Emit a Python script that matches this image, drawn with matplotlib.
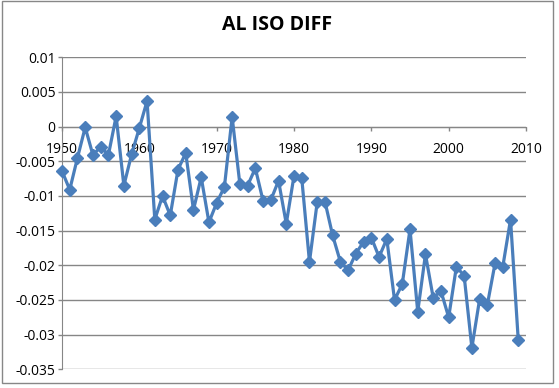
import matplotlib
matplotlib.use("Agg")
import matplotlib.pyplot as plt
from matplotlib.patches import Rectangle

years = list(range(1950, 2010))
values = [
    -0.0064, -0.0091, -0.0045, -0.0001, -0.0041, -0.0029, -0.0041, 0.0015, -0.0085, -0.0040,
    -0.0002, 0.0037, -0.0134, -0.0100, -0.0128, -0.0062, -0.0038, -0.0120, -0.0073, -0.0138,
    -0.0110, -0.0087, 0.0014, -0.0083, -0.0085, -0.0060, -0.0107, -0.0106, -0.0078, -0.0140,
    -0.0071, -0.0074, -0.0195, -0.0109, -0.0108, -0.0157, -0.0195, -0.0207, -0.0183, -0.0166,
    -0.0160, -0.0188, -0.0162, -0.0250, -0.0227, -0.0148, -0.0267, -0.0184, -0.0247, -0.0237,
    -0.0275, -0.0202, -0.0215, -0.0319, -0.0249, -0.0257, -0.0197, -0.0202, -0.0134, -0.0308,
]
y_ticks = [0.01, 0.005, 0, -0.005, -0.01, -0.015, -0.02, -0.025, -0.03, -0.035]
y_tick_labels = ["0.01", "0.005", "0", "-0.005", "-0.01", "-0.015", "-0.02", "-0.025", "-0.03", "-0.035"]
x_ticks = [1950, 1960, 1970, 1980, 1990, 2000, 2010]
x_tick_labels = ["1950", "1960", "1970", "1980", "1990", "2000", "2010"]
title = "AL ISO DIFF"

plt.rcParams['font.family'] = ['Open Sans', 'DejaVu Sans']

W, H = 559, 388
fig = plt.figure(figsize=(W / 100, H / 100), dpi=100)
fig.patch.set_facecolor('white')

left, right, top, bottom = 62, 526, 57.3, 369.3
ax = fig.add_axes([left / W, (H - bottom) / H, (right - left) / W, (bottom - top) / H])

grid_col = '#868686'
for yt in y_ticks:
    ax.axhline(yt, color=grid_col, lw=1.0, zorder=1)

ax.plot(years, values, color='#4A7EBB', lw=2.3, marker='D', markersize=6.5,
        markerfacecolor='#4A7EBB', markeredgecolor='#4A7EBB', zorder=3, clip_on=False)

ax.set_xlim(1950, 2010)
ax.set_ylim(-0.035, 0.01)

ax.spines['top'].set_visible(False)
ax.spines['right'].set_visible(False)
ax.spines['bottom'].set_position(('data', 0))
ax.spines['bottom'].set_color(grid_col)
ax.spines['left'].set_color(grid_col)
ax.spines['bottom'].set_zorder(2)

ax.set_yticks(y_ticks)
ax.set_yticklabels(y_tick_labels)
ax.set_xticks(x_ticks)
ax.set_xticklabels(x_tick_labels)
ax.tick_params(axis='y', length=3, width=1, color=grid_col, pad=1.5, labelsize=10, labelcolor='black')
ax.tick_params(axis='x', length=3, width=1, color=grid_col, pad=8, labelsize=10, labelcolor='black')

fig.text(277 / W, 1 - 25 / H, title, ha='center', va='center', fontsize=14, fontweight='bold')

fig.add_artist(Rectangle((2 / W, (H - 383) / H), 551 / W, 382 / H, transform=fig.transFigure,
                         fill=False, edgecolor='#878787', lw=1))

fig.savefig('out.png', dpi=100)
